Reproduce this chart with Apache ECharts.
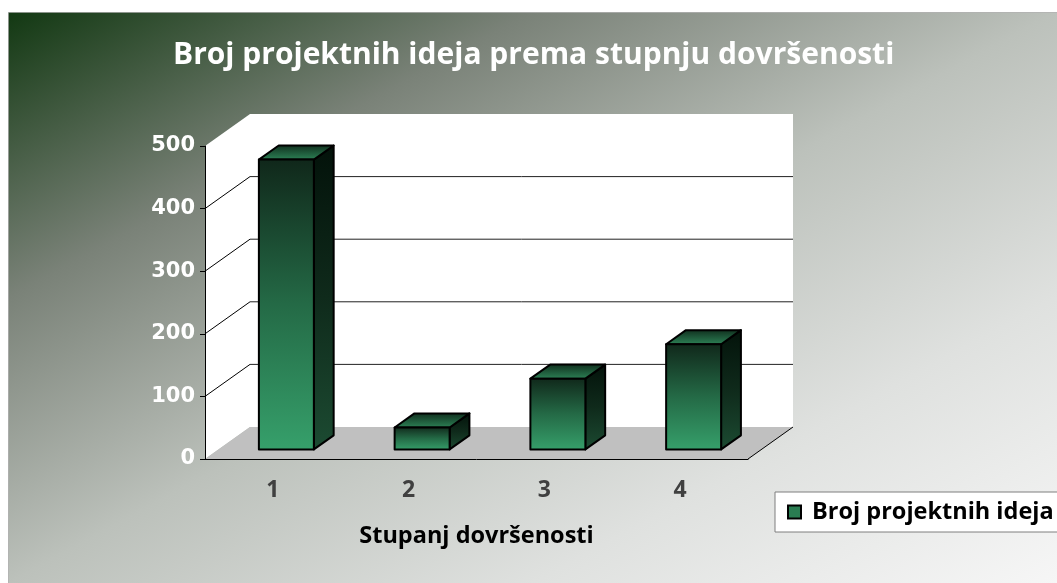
<!DOCTYPE html>
<html>
<head>
<meta charset="utf-8">
<script src="https://cdn.jsdelivr.net/npm/echarts@6/dist/echarts.min.js"></script>
<style>
  html, body { margin: 0; padding: 0; background: #fff; }
  #chart { width: 1057px; height: 583px; }
</style>
</head>
<body>
<div id="chart"></div>
<script>
// data
const categories = ['1', '2', '3', '4'];
const ideaCounts = [463, 35, 113, 168];
const yTicks = [0, 100, 200, 300, 400, 500];
const seriesName = 'Broj projektnih ideja';

// fake 3d depth of the floor, in pixels
const DX = 45, DY = -32;
// bar sits between these depth fractions
const D0 = 0.3, D1 = 0.74;
const BAR_W = 0.405;

const chart = echarts.init(document.getElementById('chart'));

const grad = (stops) => new echarts.graphic.LinearGradient(0, 0, 0, 1,
  stops.map((c, i) => ({ offset: i / (stops.length - 1), color: c })));

function renderRoom(params, api) {
  const cs = params.coordSys;
  const x0 = cs.x, x1 = cs.x + cs.width;
  const yBot = cs.y + cs.height;
  const yTop = api.coord([0, yTicks[yTicks.length - 1]])[1];
  const children = [];
  // left wall
  children.push({
    type: 'polygon',
    shape: { points: [[x0, yTop], [x0 + DX, yTop + DY], [x0 + DX, yBot + DY], [x0, yBot]] },
    style: { fill: '#fff' }
  });
  // back wall
  children.push({
    type: 'rect',
    shape: { x: x0 + DX, y: yTop + DY, width: x1 - x0, height: yBot - yTop },
    style: { fill: '#fff' }
  });
  // floor
  children.push({
    type: 'polygon',
    shape: { points: [[x0, yBot], [x0 + DX, yBot + DY], [x1 + DX, yBot + DY], [x1, yBot]] },
    style: { fill: '#c0c0c0' }
  });
  children.push({
    type: 'line',
    shape: { x1: x1, y1: yBot, x2: x1 + DX, y2: yBot + DY },
    style: { stroke: '#000', lineWidth: 1 }
  });
  // grid lines on the walls
  yTicks.slice(1, -1).forEach(v => {
    const y = api.coord([0, v])[1];
    children.push({
      type: 'line',
      shape: { x1: x0, y1: y, x2: x0 + DX, y2: y + DY },
      style: { stroke: '#000', lineWidth: 1 }
    });
    children.push({
      type: 'line',
      shape: { x1: x0 + DX, y1: y + DY, x2: x1 + DX, y2: y + DY },
      style: { stroke: '#222', lineWidth: 1 }
    });
  });
  return { type: 'group', children: children };
}

function renderBar(params, api) {
  const idx = api.value(0);
  const val = api.value(1);
  const base = api.coord([idx, 0]);
  const top = api.coord([idx, val]);
  const w = api.size([1, 0])[0] * BAR_W;
  const cx = base[0] + D0 * DX;
  const xl = cx - w / 2, xr = cx + w / 2;
  const yb = base[1] + D0 * DY, yt = top[1] + D0 * DY;
  const ddx = (D1 - D0) * DX, ddy = (D1 - D0) * DY;
  const edge = { stroke: '#000', lineWidth: 2, lineJoin: 'round' };
  return {
    type: 'group',
    children: [
      {
        type: 'polygon',
        shape: { points: [[xr, yt], [xr + ddx, yt + ddy], [xr + ddx, yb + ddy], [xr, yb]] },
        style: Object.assign({ fill: grad(['#03120a', '#0f2a1b', '#1c4b32']) }, edge)
      },
      {
        type: 'polygon',
        shape: { points: [[xl, yt], [xl + ddx, yt + ddy], [xr + ddx, yt + ddy], [xr, yt]] },
        style: Object.assign({ fill: grad(['#0f2c1c', '#2e8558']) }, edge)
      },
      {
        type: 'rect',
        shape: { x: xl, y: yt, width: w, height: yb - yt },
        style: Object.assign({ fill: grad(['#10271a', '#246a46', '#36a06b']) }, edge)
      }
    ]
  };
}

chart.setOption({
  backgroundColor: '#fff',
  animation: false,
  graphic: [{
    type: 'rect',
    z: -100,
    shape: { x: 8.5, y: 12.5, width: 1050, height: 572 },
    style: {
      fill: new echarts.graphic.LinearGradient(8, 12, 488, 893, [
        { offset: 0, color: '#123812' },
        { offset: 0.25, color: '#7a8278' },
        { offset: 0.5, color: '#bcc1bb' },
        { offset: 0.75, color: '#dfe1df' },
        { offset: 1, color: '#f6f6f6' }
      ], true),
      stroke: '#8a8a8a',
      lineWidth: 1,
      lineDash: [1, 1]
    }
  }],
  title: {
    text: 'Broj projektnih ideja prema stupnju dovršenosti',
    left: 173,
    top: 40,
    padding: 0,
    textStyle: {
      color: '#fff',
      fontFamily: 'Open Sans',
      fontWeight: 'bold',
      fontSize: 30
    }
  },
  legend: {
    data: [{
      name: seriesName,
      itemStyle: { color: '#2a7d52', borderColor: '#000', borderWidth: 2 }
    }],
    left: 775,
    top: 492,
    orient: 'vertical',
    icon: 'rect',
    itemWidth: 13,
    itemHeight: 13,
    padding: [8, 12, 8, 12],
    backgroundColor: '#fff',
    borderColor: '#7f7f7f',
    borderWidth: 1,
    borderRadius: 0,
    textStyle: {
      color: '#000',
      fontFamily: 'Open Sans',
      fontWeight: 'bold',
      fontSize: 23.5,
      padding: [0, 0, 0, 6]
    }
  },
  grid: { left: 205, right: 309, top: 146, bottom: 124 },
  xAxis: {
    type: 'category',
    data: categories,
    z: 3,
    name: 'Stupanj dovršenosti',
    nameLocation: 'middle',
    nameGap: 65,
    nameTextStyle: {
      color: '#000',
      fontFamily: 'Open Sans',
      fontWeight: 'bold',
      fontSize: 23.5
    },
    axisLine: { lineStyle: { color: '#000', width: 1 } },
    axisTick: { length: 6, lineStyle: { color: '#000' } },
    axisLabel: {
      margin: 20,
      color: '#404040',
      fontFamily: 'Open Sans',
      fontWeight: 'bold',
      fontSize: 23
    },
    splitLine: { show: false }
  },
  yAxis: {
    type: 'value',
    min: 0,
    max: 500,
    interval: 100,
    z: 3,
    axisLine: { show: true, lineStyle: { color: '#000', width: 1 } },
    axisTick: { show: true, length: 5, lineStyle: { color: '#000' } },
    axisLabel: {
      margin: 10,
      color: '#fff',
      fontFamily: 'DejaVu Sans',
      fontWeight: 'bold',
      fontSize: 21
    },
    splitLine: { show: false }
  },
  series: [
    {
      name: 'room',
      type: 'custom',
      z: 1,
      silent: true,
      clip: false,
      renderItem: renderRoom,
      data: [[0, 0]]
    },
    {
      name: seriesName,
      type: 'custom',
      z: 4,
      clip: false,
      renderItem: renderBar,
      itemStyle: { color: '#2a7d52' },
      encode: { x: 0, y: 1 },
      data: ideaCounts.map((v, i) => [i, v])
    }
  ]
});
</script>
</body>
</html>
